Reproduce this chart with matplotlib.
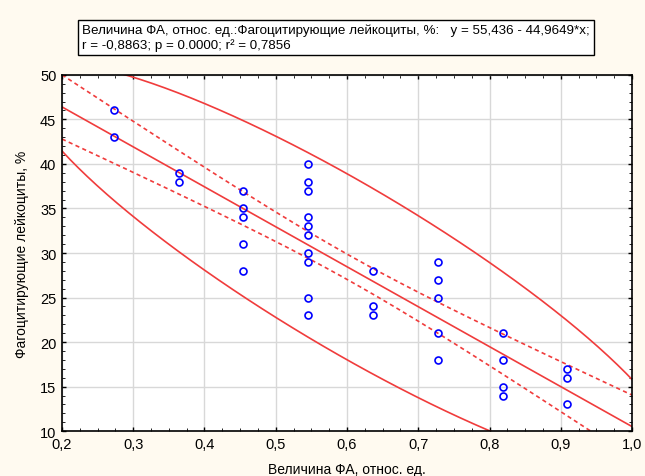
import numpy as np
import matplotlib.pyplot as plt
from matplotlib.ticker import MultipleLocator, FuncFormatter

plt.rcParams['font.family'] = ['Liberation Sans', 'DejaVu Sans']

# величина ФА (k/11) и фагоцитирующие лейкоциты, %
x_groups = [3/11, 4/11, 5/11, 6/11, 7/11, 8/11, 9/11, 10/11]
y_groups = [
    [46, 43],
    [39, 38],
    [37, 35, 34, 31, 28],
    [40, 38, 37, 34, 33, 32, 30, 29, 25, 23],
    [28, 24, 23],
    [29, 27, 25, 21, 18],
    [21, 18, 15, 14],
    [17, 16, 13],
]

title_text = ("Величина ФА, относ. ед.:Фагоцитирующие лейкоциты, %:   y = 55,436 - 44,9649*x;\n"
              "r = -0,8863; p = 0.0000; r² = 0,7856")
xlabel = "Величина ФА, относ. ед."
ylabel = "Фагоцитирующие лейкоциты, %"

x = np.concatenate([[xv] * len(ys) for xv, ys in zip(x_groups, y_groups)])
y = np.concatenate([np.array(ys, float) for ys in y_groups])
n = len(x)

b, a = np.polyfit(x, y, 1)
xm = x.mean()
sxx = ((x - xm) ** 2).sum()
s = np.sqrt(((y - (a + b * x)) ** 2).sum() / (n - 2))
t = 2.0369  # t(0.975, 32)

xx = np.linspace(0.2, 1.0, 200)
fit = a + b * xx
half = t * s * np.sqrt(1 / n + (xx - xm) ** 2 / sxx)

# 95% эллипс (F-распределение, F(2,32)=3.295)
cov = np.cov(x, y)
L = np.linalg.cholesky(cov)
k = np.sqrt(2 * (n - 1) / (n - 2) * 3.295)
th = np.linspace(0, 2 * np.pi, 400)
ell = np.array([xm, y.mean()])[:, None] + k * L @ np.vstack([np.cos(th), np.sin(th)])

red = '#f03c3c'
fig = plt.figure(figsize=(6.45, 4.77), dpi=100, facecolor='#fffaf0')
ax = fig.add_axes([0.096, 0.094, 0.884, 0.747])
ax.set_facecolor('white')

ax.plot(ell[0], ell[1], color=red, lw=1.2)
ax.plot(xx, fit, color=red, lw=1.2)
ax.plot(xx, fit + half, color=red, lw=1.2, ls=(0, (2.5, 2)))
ax.plot(xx, fit - half, color=red, lw=1.2, ls=(0, (2.5, 2)))
ax.plot(x, y, 'o', mfc='none', mec='#0000ff', ms=5, mew=1.2)

ax.set_xlim(0.2, 1.0)
ax.set_ylim(10, 50)
ax.xaxis.set_major_locator(MultipleLocator(0.1))
ax.xaxis.set_minor_locator(MultipleLocator(0.025))
ax.yaxis.set_major_locator(MultipleLocator(5))
ax.yaxis.set_minor_locator(MultipleLocator(1))
ax.xaxis.set_major_formatter(FuncFormatter(lambda v, p: f"{v:.1f}".replace('.', ',')))
ax.yaxis.set_major_formatter(FuncFormatter(lambda v, p: f"{v:.0f}"))
ax.tick_params(which='both', direction='in', top=True, right=True, labelsize=10.5, pad=4)
ax.tick_params(which='major', length=3, width=1)
ax.tick_params(which='minor', length=2, width=0.6)
ax.grid(True, which='major', color='#d8d8d8', lw=1)
for sp in ax.spines.values():
    sp.set_linewidth(1.2)
    sp.set_color('black')

ax.set_xlabel(xlabel, fontsize=10, labelpad=8)
ax.set_ylabel(ylabel, fontsize=10, labelpad=8)

fig.text(0.127, 0.919, title_text, fontsize=9.6, ha='left', va='center', linespacing=1.2,
         bbox=dict(boxstyle='square,pad=0.3', fc='white', ec='black', lw=1))

fig.savefig('out.png', dpi=100, facecolor=fig.get_facecolor())
